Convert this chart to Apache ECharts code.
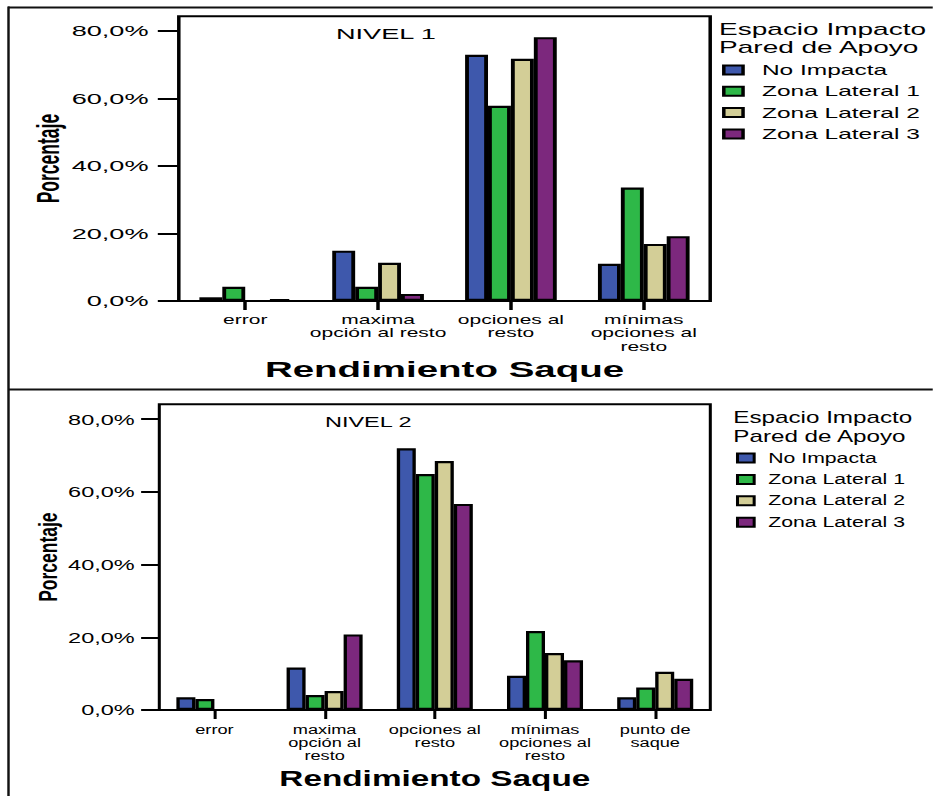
<!DOCTYPE html>
<html><head><meta charset="utf-8">
<script src="https://cdn.jsdelivr.net/npm/echarts@6/dist/echarts.min.js"></script>
<style>
html,body{margin:0;padding:0;background:#fff;overflow:hidden;width:933px;height:796px;}
.c{position:absolute;left:0;top:0;height:796px;transform-origin:0 0;}
</style></head><body>
<div id="c1" class="c"></div><div id="c2" class="c"></div>
<script>
// ---------- data ----------
const seriesNames = ['No Impacta', 'Zona Lateral 1', 'Zona Lateral 2', 'Zona Lateral 3'];
const yTickValues = [0, 20, 40, 60, 80];

// NIVEL 1
const categories1 = ['error', 'maxima\nopción al resto', 'opciones al\nresto', 'mínimas\nopciones al\nresto'];
const noImpacta1 = [1.1, 14.9, 72.9, 11.0];
const zonaLat1_1 = [4.2, 4.2, 57.8, 33.6];
const zonaLat2_1 = [0, 11.3, 71.7, 16.9];
const zonaLat3_1 = [0.6, 2.1, 78.1, 19.2];

// NIVEL 2
const categories2 = ['error', 'maxima\nopción al\nresto', 'opciones al\nresto', 'mínimas\nopciones al\nresto', 'punto de\nsaque'];
const noImpacta2 = [3.5, 11.7, 72.0, 9.4, 3.5];
const zonaLat1_2 = [3.0, 4.1, 64.9, 21.7, 6.2];
const zonaLat2_2 = [0, 5.2, 68.5, 15.7, 10.5];
const zonaLat3_2 = [0, 20.8, 56.7, 13.7, 8.6];

// ---------- style ----------
const COLORS = ['#3E58AC', '#2EB848', '#D3CE97', '#7C287D'];
const FONT = '"Liberation Sans", Arial, Helvetica, sans-serif';

function txt(x, y, text, size, weight) {
  return {type: 'text', x: x, y: y, z: 10, style: {
    text: text, fill: '#000', fontSize: size, fontWeight: weight || 'normal', fontFamily: FONT,
    verticalAlign: 'middle', textVerticalAlign: 'middle'}};
}
function line(x1, y1, x2, y2, w) {
  return {type: 'line', z: 10, shape: {x1: x1, y1: y1, x2: x2, y2: y2}, style: {stroke: '#111', lineWidth: w}};
}

function build(o) {
  return {
    animation: false,
    backgroundColor: 'transparent',
    textStyle: {fontFamily: FONT, color: '#000'},
    grid: {left: o.gl, top: o.gt, width: o.gw, height: o.gh, show: true,
      borderColor: '#000', borderWidth: 2, backgroundColor: 'transparent'},
    legend: {orient: 'vertical', left: o.lx, top: o.ly, itemWidth: 11, itemHeight: 9, itemGap: o.lgap,
      icon: 'rect', padding: 0, selectedMode: false, data: seriesNames,
      itemStyle: {borderColor: '#000', borderWidth: 2},
      textStyle: {fontSize: 14, color: '#000', fontFamily: FONT, padding: [0, 0, 0, o.lpad]}},
    xAxis: {type: 'category', data: o.cats,
      axisLine: {show: false},
      axisTick: {show: true, alignWithLabel: true, length: 9, lineStyle: {color: '#000', width: 2}},
      axisLabel: {interval: 0, margin: o.xm, fontSize: 12, lineHeight: o.xlh, color: '#000', fontFamily: FONT},
      name: 'Rendimiento Saque', nameLocation: 'middle', nameGap: o.xng, nameMoveOverlap: false,
      nameTextStyle: {fontSize: 22, fontWeight: 'bold', color: '#000', fontFamily: FONT, verticalAlign: 'middle'}},
    yAxis: {type: 'value', min: 0, max: o.ymax, interval: 20,
      axisLine: {show: false}, splitLine: {show: false},
      axisTick: {show: true, length: 12, customValues: yTickValues, lineStyle: {color: '#000', width: 2}},
      axisLabel: {customValues: yTickValues, margin: o.ym, fontSize: 15.5, color: '#000', fontFamily: FONT,
        formatter: function (v) { return v.toFixed(1).replace('.', ',') + '%'; }},
      name: 'Porcentaje', nameLocation: 'middle', nameGap: o.yng, nameRotate: 90, nameMoveOverlap: false,
      nameTextStyle: {fontSize: 17.5, fontWeight: 'bold', color: '#000', fontFamily: FONT, verticalAlign: 'middle', align: 'center'}},
    series: seriesNames.map(function (n, i) {
      return {type: 'bar', name: n, data: o.data[i], barGap: '0%', barCategoryGap: '31%',
        itemStyle: {color: COLORS[i], borderColor: '#000', borderWidth: 2.2}};
    }),
    graphic: o.graphic
  };
}

// ---------- chart 1 (top) ----------
const S1 = 1.75, W1 = 933 / S1;
const el1 = document.getElementById('c1');
el1.style.width = W1 + 'px';
el1.style.transform = 'scaleX(' + S1 + ')';
const ch1 = echarts.init(el1, null, {renderer: 'svg'});
ch1.setOption(build({
  cats: categories1, data: [noImpacta1, zonaLat1_1, zonaLat2_1, zonaLat3_1],
  gl: 102.17, gt: 16.2, gw: 303.66, gh: 284.8, ymax: 84.3,
  ym: 17.3, yng: 74.6, xm: 12.2, xlh: 13.6, xng: 69,
  lx: 412.6, ly: 63, lgap: 7.3, lpad: 5.8,
  graphic: [
    line(8 / S1, 7.5, W1, 7.5, 2),
    line(8 / S1, 389.5, W1, 389.5, 2),
    line(8.5 / S1, 6.5, 8.5 / S1, 796, 1.4),
    txt(336 / S1, 33.5, 'NIVEL 1', 15.5),
    txt(410.9, 29.8, 'Espacio Impacto', 16),
    txt(410.9, 47.8, 'Pared de Apoyo', 16)
  ]
}));

// ---------- chart 2 (bottom) ----------
const S2 = 1.515, W2 = 933 / S2;
const el2 = document.getElementById('c2');
el2.style.width = W2 + 'px';
el2.style.transform = 'scaleX(' + S2 + ')';
const ch2 = echarts.init(el2, null, {renderer: 'svg'});
ch2.setOption(build({
  cats: categories2, data: [noImpacta2, zonaLat1_2, zonaLat2_2, zonaLat3_2],
  gl: 105.15, gt: 404.3, gw: 363.7, gh: 305.7, ymax: 84.1,
  ym: 16.3, yng: 73.3, xm: 12.6, xlh: 13.3, xng: 68,
  lx: 485.8, ly: 451, lgap: 7.4, lpad: 4.3,
  graphic: [
    txt(325 / S2, 421.7, 'NIVEL 2', 15.5),
    txt(484.0, 417.5, 'Espacio Impacto', 16),
    txt(484.0, 435.8, 'Pared de Apoyo', 16)
  ]
}));
</script>
</body></html>
